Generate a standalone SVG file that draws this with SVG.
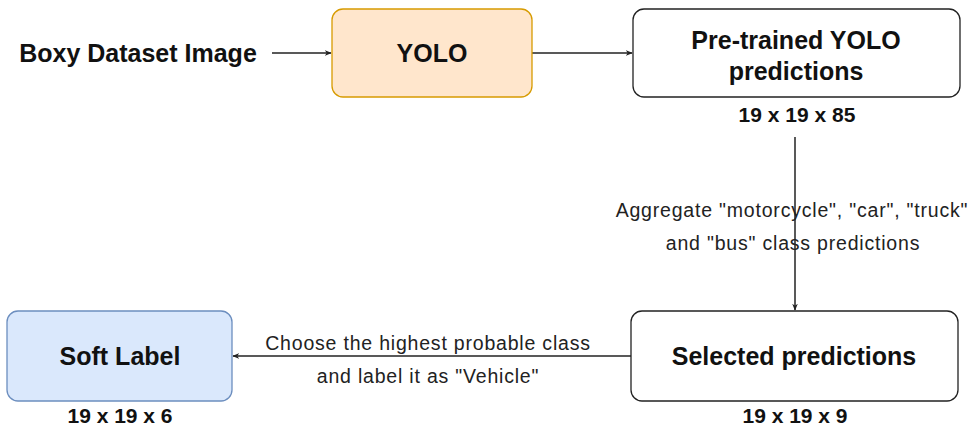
<svg xmlns="http://www.w3.org/2000/svg" width="969" height="426" viewBox="0 0 969 426">
<style>
.t{font-family:"Liberation Sans",Arial,sans-serif;fill:#111;text-anchor:middle}
.b{font-weight:bold;font-size:25px}
.s{font-weight:bold;font-size:21px}
.l{font-size:19.5px;letter-spacing:0.8px;fill:#222}
.e{stroke:#222;stroke-width:1.5;fill:none;marker-end:url(#a)}
</style>
<defs>
<marker id="a" viewBox="0 0 10 10" refX="9" refY="5" markerWidth="7" markerHeight="7" markerUnits="userSpaceOnUse" orient="auto">
<path d="M0,1 L10,5 L0,9 L3,5 Z" fill="#222"/>
</marker>
</defs>
<rect width="969" height="426" fill="#fff"/>
<g id="connectors">
<line class="e" x1="272" y1="53" x2="331" y2="53"/>
<line class="e" x1="532" y1="53" x2="632" y2="53"/>
<line class="e" x1="795" y1="137" x2="795" y2="310"/>
<line class="e" x1="631" y1="356" x2="233" y2="356"/>
<text class="t l" x="792" y="217">Aggregate "motorcycle", "car", "truck"</text>
<text class="t l" x="793" y="250">and "bus" class predictions</text>
<text class="t l" x="428" y="350">Choose the highest probable class</text>
<text class="t l" x="428" y="383">and label it as "Vehicle"</text>
</g>
<g id="input">
<text class="t b" x="138" y="62">Boxy Dataset Image</text>
</g>
<g id="yolo">
<rect x="332" y="9" width="200" height="88" rx="11" fill="#ffe6cc" stroke="#d79b00" stroke-width="1.3"/>
<text class="t b" x="432" y="62">YOLO</text>
</g>
<g id="pretrained">
<rect x="633" y="9" width="327" height="88" rx="11" fill="#fff" stroke="#222" stroke-width="1.3"/>
<text class="t b" x="796" y="49">Pre-trained YOLO</text>
<text class="t b" x="796" y="80">predictions</text>
<text class="t s" x="797" y="122">19 x 19 x 85</text>
</g>
<g id="selected">
<rect x="631" y="311" width="327" height="90" rx="11" fill="#fff" stroke="#222" stroke-width="1.3"/>
<text class="t b" x="794" y="365">Selected predictions</text>
<text class="t s" x="795" y="423">19 x 19 x 9</text>
</g>
<g id="soft">
<rect x="7" y="311" width="225" height="90" rx="11" fill="#dae8fc" stroke="#6c8ebf" stroke-width="1.3"/>
<text class="t b" x="120" y="365">Soft Label</text>
<text class="t s" x="120" y="423">19 x 19 x 6</text>
</g>
</svg>
